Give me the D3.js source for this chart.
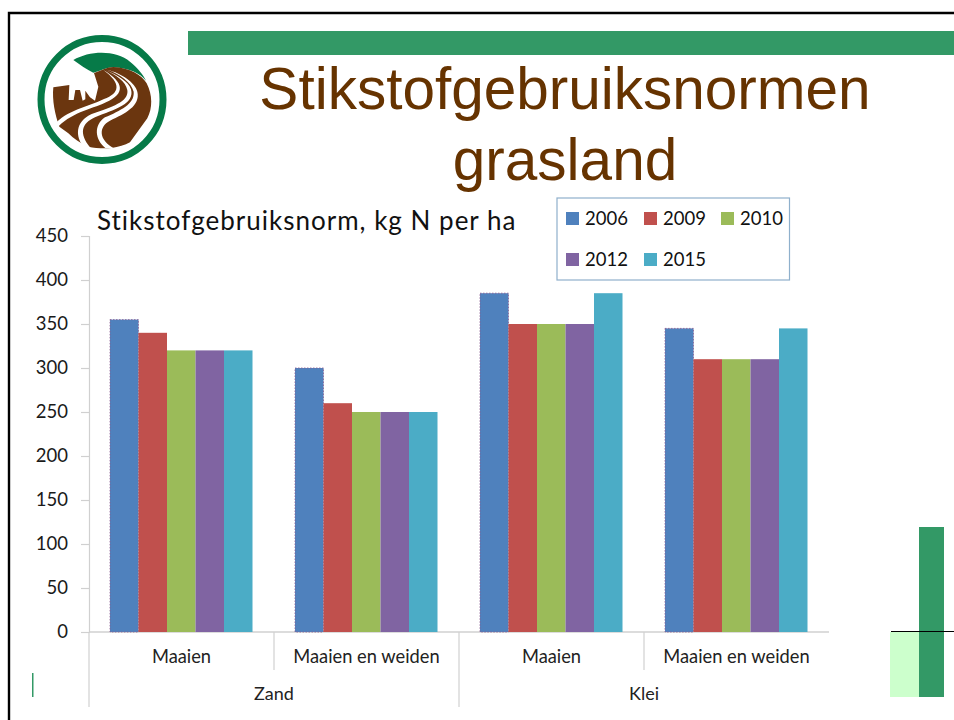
<!DOCTYPE html>
<html><head><meta charset="utf-8">
<script src="https://cdn.jsdelivr.net/npm/d3@7/dist/d3.min.js"></script>
<style>html,body{margin:0;padding:0;background:#fff;overflow:hidden}svg{display:block}</style>
</head><body><svg id="c" width="954" height="720"></svg>
<script>
const titleLines = ["Stikstofgebruiksnormen", "grasland"];
const chartTitle = "Stikstofgebruiksnorm, kg N per ha";
const years = ["2006", "2009", "2010", "2012", "2015"];
const colors = ["#4f81bd", "#c0504d", "#9bbb59", "#8064a2", "#4bacc6"];
const categories = ["Maaien", "Maaien en weiden", "Maaien ", "Maaien en weiden "];
const soils = ["Zand", "Klei"];
const values2006 = [355, 300, 385, 345];
const values2009 = [340, 260, 350, 310];
const values2010 = [320, 250, 350, 310];
const values2012 = [320, 250, 350, 310];
const values2015 = [320, 250, 385, 345];
const seriesValues = [values2006, values2009, values2010, values2012, values2015];
const yTicks = [0, 50, 100, 150, 200, 250, 300, 350, 400, 450];

const svg = d3.select("#c");
const FONT = "Lato, 'Open Sans', sans-serif";
const AXIS = "#d0d0d0";
const y = d3.scaleLinear().domain([0, 450]).range([632, 236]);
const x0 = d3.scaleBand().domain(categories).range([89, 829]).paddingInner(0).paddingOuter(0);
const x1 = d3.scaleBand().domain(years).range([21, 163.5]);

// slide frame
svg.append("path").attr("d", "M9 720V13H954").attr("fill", "none").attr("stroke", "#000").attr("stroke-width", 2.4);
// decoration
svg.append("rect").attr("x", 188).attr("y", 31).attr("width", 766).attr("height", 24).attr("fill", "#339966");
svg.append("rect").attr("x", 890).attr("y", 632).attr("width", 29).attr("height", 65).attr("fill", "#ccffcc");
svg.append("rect").attr("x", 919).attr("y", 527).attr("width", 25).attr("height", 170).attr("fill", "#339966");
svg.append("line").attr("x1", 891).attr("x2", 954).attr("y1", 631.5).attr("y2", 631.5).attr("stroke", "#000").attr("stroke-width", 1);
svg.append("rect").attr("x", 32).attr("y", 673).attr("width", 1.5).attr("height", 24).attr("fill", "#339966");

// logo
svg.append("circle").attr("cx", 102).attr("cy", 99.5).attr("r", 61).attr("fill", "#fff").attr("stroke", "#067a48").attr("stroke-width", 7);
const logo = svg.append("g").attr("transform", "translate(30,30) scale(0.3333)");
logo.append("path").attr("d", "M130 90C180 60 260 60 300 95C325 115 340 135 348 152C330 130 300 115 250 112C225 112 210 125 190 128C170 118 150 105 130 90Z").attr("fill", "#067a48");
logo.append("path").attr("d", "M70 172L118 165L116 210L131 210L136 180L150 180L158 212L166 208L166 182L180 202L195 212L205 170L192 129C215 122 232 111 250 111C300 113 335 135 350 160C368 195 368 235 352 265L300 337C285 345 265 352 245 354C220 356 195 354 175 350C150 340 130 325 115 310L88 290C75 255 66 210 70 172Z").attr("fill", "#6b360f");
const roads = [
  "M78 298C120 248 180 240 228 217C285 192 285 158 220 120C275 160 270 190 222 207C170 232 110 240 72 285Z",
  "M182 354C145 310 155 280 195 262C255 238 315 222 303 178C297 155 262 135 226 120C258 135 288 155 292 180C298 215 245 232 185 252C135 275 135 320 162 352Z",
  "M254 356C205 330 205 290 240 272C285 250 332 228 322 185C316 158 275 130 232 119C270 132 305 158 311 185C315 222 270 242 225 262C190 285 195 330 226 354Z"
];
logo.selectAll("path.road").data(roads).join("path").attr("class", "road").attr("d", d => d).attr("fill", "#fff");

// slide title
svg.selectAll("text.title").data(titleLines).join("text").attr("class", "title")
  .attr("x", 565).attr("y", (d, i) => 109 + i * 71)
  .attr("text-anchor", "middle").attr("fill", "#663300")
  .attr("font-family", "'Liberation Sans', Arial, sans-serif").attr("font-size", 58.5)
  .text(d => d);

// x axis with multi-level separators
const axisG = svg.append("g");
axisG.append("line").attr("x1", 89).attr("x2", 829).attr("y1", 632).attr("y2", 632).attr("stroke", AXIS).attr("stroke-width", 1.5);
const cuts = categories.map(c => x0(c)).concat([x0.range()[1]]);
[[cuts[0], 707], [cuts[1], 670], [cuts[2], 707], [cuts[3], 670]].forEach(([px, end]) => {
  axisG.append("line").attr("x1", px).attr("x2", px).attr("y1", 632).attr("y2", end).attr("stroke", AXIS).attr("stroke-width", 1.2);
});

// y axis
svg.append("g").attr("transform", "translate(89,0)")
  .call(d3.axisLeft(y).tickValues(yTicks).tickSize(8).tickPadding(13))
  .call(g => g.selectAll(".domain,line").attr("stroke", AXIS).attr("stroke-width", 1.2))
  .selectAll("text").attr("font-family", FONT).attr("font-size", 18.5).attr("fill", "#1a1a1a");

// bars
seriesValues.forEach((vals, s) => {
  svg.append("g").selectAll("rect").data(vals).join("rect")
    .attr("x", (d, i) => x0(categories[i]) + x1(years[s]))
    .attr("y", d => y(d))
    .attr("width", x1.bandwidth())
    .attr("height", d => y(0) - y(d))
    .attr("fill", colors[s])
    .attr("stroke", s === 0 ? "#8a5a90" : "none")
    .attr("stroke-width", s === 0 ? 0.8 : 0)
    .attr("stroke-dasharray", s === 0 ? "1.5 1.5" : null);
});

// category labels
svg.append("g").selectAll("text").data(categories).join("text")
  .attr("x", d => x0(d) + x0.bandwidth() / 2).attr("y", 663)
  .attr("text-anchor", "middle").attr("font-family", FONT).attr("font-size", 18.3).attr("fill", "#222")
  .text(d => d.trim());
svg.append("g").selectAll("text").data(soils).join("text")
  .attr("x", (d, i) => x0(categories[i * 2]) + x0.bandwidth())
  .attr("y", 700).attr("text-anchor", "middle").attr("font-family", FONT).attr("font-size", 18).attr("fill", "#222")
  .text(d => d);

// chart title
svg.append("text").attr("x", 97).attr("y", 230).attr("font-family", FONT).attr("font-size", 26).attr("letter-spacing", 1).attr("fill", "#111").text(chartTitle);

// legend
svg.append("rect").attr("x", 557).attr("y", 198).attr("width", 232.5).attr("height", 82).attr("fill", "#fff").attr("stroke", "#8fb0cc").attr("stroke-width", 1.2);
const legX = [566, 644, 721, 566, 644];
const legY = [218.5, 218.5, 218.5, 259.5, 259.5];
years.forEach((yr, i) => {
  svg.append("rect").attr("x", legX[i]).attr("y", legY[i] - 6.5).attr("width", 13).attr("height", 13).attr("fill", colors[i]);
  svg.append("text").attr("x", legX[i] + 19).attr("y", legY[i] + 6.5).attr("font-family", FONT).attr("font-size", 18.5).attr("fill", "#111").text(yr);
});
</script></body></html>
